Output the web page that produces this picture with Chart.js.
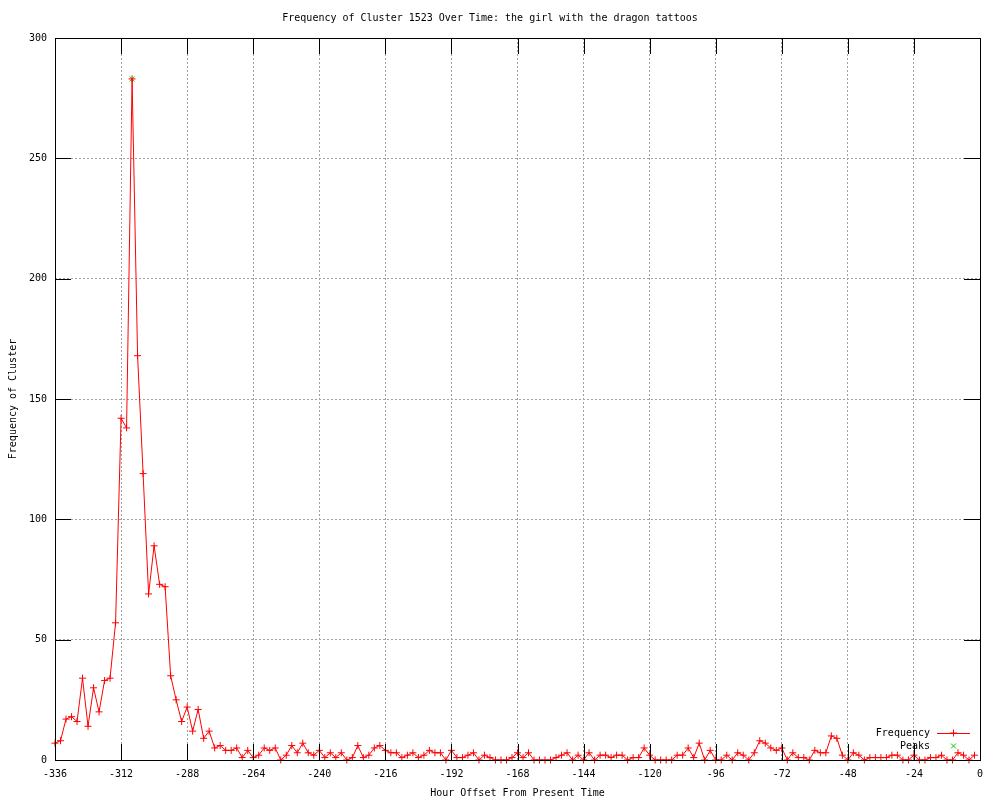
<!DOCTYPE html>
<html lang="en">
<head>
<meta charset="UTF-8">
<title>Frequency of Cluster 1523 Over Time</title>
<script src="https://cdn.jsdelivr.net/npm/chart.js"></script>
<style>
    body { margin: 0; background: #ffffff; }
    #freqChart { display: block; }
</style>
</head>
<body>

<canvas id="freqChart" width="1000" height="800"></canvas>

<script>
    // hour offsets (one sample every 2 hours)
    const hours = [
        -336, -334, -332, -330, -328, -326, -324, -322, -320, -318,
        -316, -314, -312, -310, -308, -306, -304, -302, -300, -298,
        -296, -294, -292, -290, -288, -286, -284, -282, -280, -278,
        -276, -274, -272, -270, -268, -266, -264, -262, -260, -258,
        -256, -254, -252, -250, -248, -246, -244, -242, -240, -238,
        -236, -234, -232, -230, -228, -226, -224, -222, -220, -218,
        -216, -214, -212, -210, -208, -206, -204, -202, -200, -198,
        -196, -194, -192, -190, -188, -186, -184, -182, -180, -178,
        -176, -174, -172, -170, -168, -166, -164, -162, -160, -158,
        -156, -154, -152, -150, -148, -146, -144, -142, -140, -138,
        -136, -134, -132, -130, -128, -126, -124, -122, -120, -118,
        -116, -114, -112, -110, -108, -106, -104, -102, -100, -98,
        -96, -94, -92, -90, -88, -86, -84, -82, -80, -78,
        -76, -74, -72, -70, -68, -66, -64, -62, -60, -58,
        -56, -54, -52, -50, -48, -46, -44, -42, -40, -38,
        -36, -34, -32, -30, -28, -26, -24, -22, -20, -18,
        -16, -14, -12, -10, -8, -6, -4, -2
    ];
    const frequency = [
        7, 8, 17, 18, 16, 34, 14, 30, 20, 33,
        34, 57, 142, 138, 283, 168, 119, 69, 89, 73,
        72, 35, 25, 16, 22, 12, 21, 9, 12, 5,
        6, 4, 4, 5, 1, 4, 1, 2, 5, 4,
        5, 0, 2, 6, 3, 7, 3, 2, 4, 1,
        3, 1, 3, 0, 1, 6, 1, 2, 5, 6,
        4, 3, 3, 1, 2, 3, 1, 2, 4, 3,
        3, 0, 4, 1, 1, 2, 3, 0, 2, 1,
        0, 0, 0, 1, 3, 1, 3, 0, 0, 0,
        0, 1, 2, 3, 0, 2, 0, 3, 0, 2,
        2, 1, 2, 2, 0, 1, 1, 5, 2, 0,
        0, 0, 0, 2, 2, 5, 1, 7, 0, 4,
        0, 0, 2, 0, 3, 2, 0, 3, 8, 7,
        5, 4, 5, 0, 3, 1, 1, 0, 4, 3,
        3, 10, 9, 2, 0, 3, 2, 0, 1, 1,
        1, 1, 2, 2, 0, 0, 2, 0, 0, 1,
        1, 2, 0, 0, 3, 2, 0, 2
    ];
    const peakHours = [-308];
    const peakValues = [283];

    const xTicks = { min: -336, max: 0, step: 24 };
    const yTicks = { min: 0, max: 300, step: 50 };

    const monoFont = { family: "'DejaVu Sans Mono', monospace", size: 10, weight: 'normal' };

    // gnuplot style frame with inward ticks on all four sides
    const framePlugin = {
        id: 'frame',
        afterDatasetsDraw(chart) {
            const { ctx, chartArea: a, scales: { x, y } } = chart;
            const len = 16;
            ctx.save();
            ctx.strokeStyle = '#000000';
            ctx.lineWidth = 1;
            ctx.beginPath();
            x.ticks.forEach(t => {
                const px = Math.round(x.getPixelForValue(t.value)) + 0.5;
                ctx.moveTo(px, a.bottom); ctx.lineTo(px, a.bottom - len);
                ctx.moveTo(px, a.top); ctx.lineTo(px, a.top + len);
            });
            y.ticks.forEach(t => {
                const py = Math.round(y.getPixelForValue(t.value)) + 0.5;
                ctx.moveTo(a.left, py); ctx.lineTo(a.left + len, py);
                ctx.moveTo(a.right, py); ctx.lineTo(a.right - len, py);
            });
            ctx.stroke();
            ctx.strokeRect(Math.round(a.left) + 0.5, Math.round(a.top) + 0.5,
                Math.round(a.right - a.left), Math.round(a.bottom - a.top));
            ctx.restore();
        }
    };

    // key in the lower right corner: text first, then the sample
    const keyPlugin = {
        id: 'key',
        afterDraw(chart) {
            const { ctx, chartArea: a } = chart;
            const textRight = a.right - 50;
            const sampleL = a.right - 43, sampleR = a.right - 10;
            const mid = (sampleL + sampleR) / 2;
            ctx.save();
            ctx.font = "10px 'DejaVu Sans Mono', monospace";
            ctx.fillStyle = '#000000';
            ctx.textAlign = 'right';
            ctx.textBaseline = 'middle';
            chart.data.datasets.forEach((ds, i) => {
                const yy = a.bottom - 27 + i * 13;
                ctx.fillText(ds.label, textRight, yy);
                ctx.strokeStyle = ds.borderColor;
                ctx.lineWidth = 1;
                ctx.beginPath();
                if (ds.showLine !== false) {
                    ctx.moveTo(sampleL, yy + 0.5); ctx.lineTo(sampleR, yy + 0.5);
                }
                ctx.stroke();
                Chart.helpers.drawPoint(ctx, {
                    pointStyle: ds.pointStyle, radius: ds.pointRadius, borderWidth: 1, rotation: 0
                }, mid, yy);
            });
            ctx.restore();
        }
    };

    new Chart(document.getElementById('freqChart'), {
        type: 'line',
        data: {
            datasets: [{
                label: 'Frequency',
                data: hours.map((h, i) => ({ x: h, y: frequency[i] })),
                borderColor: '#ff0000',
                backgroundColor: '#ff0000',
                borderWidth: 1,
                pointStyle: 'cross',
                pointRadius: 3.5,
                pointBorderWidth: 1,
                pointBorderColor: '#ff0000',
                tension: 0,
                clip: false
            }, {
                label: 'Peaks',
                data: peakHours.map((h, i) => ({ x: h, y: peakValues[i] })),
                borderColor: '#00cc00',
                backgroundColor: '#00cc00',
                showLine: false,
                pointStyle: 'crossRot',
                pointRadius: 3.5,
                pointBorderWidth: 1,
                pointBorderColor: '#00cc00',
                clip: false
            }]
        },
        options: {
            responsive: false,
            animation: false,
            layout: { padding: { left: 0, right: 20, top: 0, bottom: 0 } },
            plugins: {
                legend: { display: false },
                tooltip: { enabled: false },
                title: {
                    display: true,
                    text: 'Frequency of Cluster 1523 Over Time: the girl with the dragon tattoos',
                    color: '#000000',
                    font: monoFont,
                    padding: { top: 12, bottom: 14 }
                }
            },
            scales: {
                x: {
                    type: 'linear',
                    min: xTicks.min,
                    max: xTicks.max,
                    ticks: { stepSize: xTicks.step, color: '#000000', font: monoFont, padding: 8, maxRotation: 0, autoSkip: false },
                    grid: { color: '#a0a0a0', drawTicks: false, lineWidth: 1 },
                    border: { display: false, dash: [2, 2] },
                    title: { display: true, text: 'Hour Offset From Present Time', color: '#000000', font: monoFont, padding: { top: 0, bottom: 1 } },
                    afterFit: s => { s.height = 40; }
                },
                y: {
                    min: yTicks.min,
                    max: yTicks.max,
                    ticks: { stepSize: yTicks.step, color: '#000000', font: monoFont, padding: 8 },
                    grid: { color: '#a0a0a0', drawTicks: false, lineWidth: 1 },
                    border: { display: false, dash: [2, 2] },
                    title: { display: true, text: 'Frequency of Cluster', color: '#000000', font: monoFont, padding: { top: 7, bottom: 0 } },
                    afterFit: s => { s.width = 55; }
                }
            }
        },
        plugins: [framePlugin, keyPlugin]
    });
</script>

</body>
</html>
